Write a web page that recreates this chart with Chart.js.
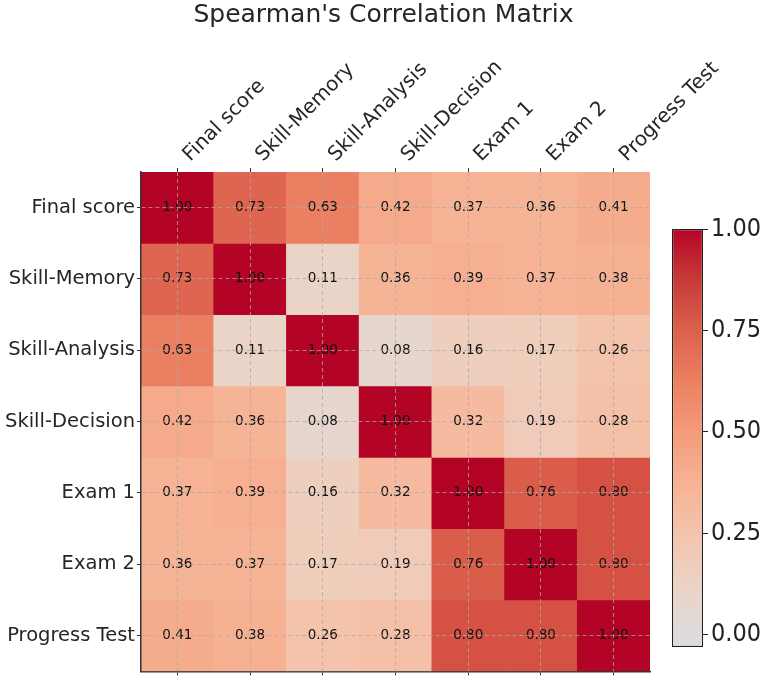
<!DOCTYPE html>
<html>
<head>
<meta charset="utf-8">
<script src="https://cdn.jsdelivr.net/npm/chart.js@4.4.1/dist/chart.umd.min.js"></script>
<style>
html, body { margin: 0; padding: 0; background: #fff; }
#wrap { position: relative; width: 767px; height: 685px; }
#wrap canvas { position: absolute; left: 0; top: 0; }
</style>
</head>
<body>
<div id="wrap">
  <canvas id="heat" width="767" height="685"></canvas>
  <canvas id="cbar" width="767" height="685"></canvas>
</div>
<script>
const labels = ['Final score', 'Skill-Memory', 'Skill-Analysis', 'Skill-Decision', 'Exam 1', 'Exam 2', 'Progress Test'];

// correlation rows, same order as labels
const rowFinal    = [1.00, 0.73, 0.63, 0.42, 0.37, 0.36, 0.41];
const rowMemory   = [0.73, 1.00, 0.11, 0.36, 0.39, 0.37, 0.38];
const rowAnalysis = [0.63, 0.11, 1.00, 0.08, 0.16, 0.17, 0.26];
const rowDecision = [0.42, 0.36, 0.08, 1.00, 0.32, 0.19, 0.28];
const rowExam1    = [0.37, 0.39, 0.16, 0.32, 1.00, 0.76, 0.80];
const rowExam2    = [0.36, 0.37, 0.17, 0.19, 0.76, 1.00, 0.80];
const rowProgress = [0.41, 0.38, 0.26, 0.28, 0.80, 0.80, 1.00];
const matrix = [rowFinal, rowMemory, rowAnalysis, rowDecision, rowExam1, rowExam2, rowProgress];

const cbarTicks = [0, 0.25, 0.5, 0.75, 1];
const cbarMin = -0.03;
const cbarMax = 1.0;

// warm half of coolwarm, 0 -> 1
const cmapStops = [
  [221, 220, 220], [236, 211, 197], [244, 196, 173], [246, 178, 148], [244, 155, 122],
  [235, 128, 98], [220, 96, 76], [200, 58, 55], [180, 4, 38]
];

const cmap = v => {
  v = Math.max(0, Math.min(1, v));
  const p = v * (cmapStops.length - 1);
  const i = Math.min(Math.floor(p), cmapStops.length - 2);
  const t = p - i;
  const a = cmapStops[i], b = cmapStops[i + 1];
  const c = a.map((x, k) => Math.round(x + (b[k] - x) * t));
  return 'rgb(' + c.join(',') + ')';
};

const gridColor = 'rgba(170,170,170,0.75)';

const cellText = {
  id: 'cellText',
  afterDatasetsDraw(chart) {
    const ctx = chart.ctx;
    ctx.save();
    ctx.font = '13.5px "DejaVu Sans"';
    ctx.fillStyle = '#111';
    ctx.textAlign = 'center';
    ctx.textBaseline = 'middle';
    chart.data.datasets.forEach((ds, r) => {
      chart.getDatasetMeta(r).data.forEach((el, c) => {
        ctx.fillText(matrix[r][c].toFixed(2), el.x, (el.y + el.base) / 2);
      });
    });
    ctx.restore();
  }
};

// matplotlib style 45 degree column labels, anchored at their start
const topLabels = {
  id: 'topLabels',
  afterDraw(chart) {
    const ctx = chart.ctx;
    const xs = chart.scales.x;
    ctx.save();
    ctx.font = '20px "DejaVu Sans"';
    ctx.fillStyle = '#262626';
    ctx.textAlign = 'left';
    ctx.textBaseline = 'alphabetic';
    labels.forEach((lab, i) => {
      ctx.save();
      ctx.translate(xs.getPixelForTick(i) + 13, chart.chartArea.top - 10);
      ctx.rotate(-Math.PI / 4);
      ctx.fillText(lab, 0, 0);
      ctx.restore();
    });
    ctx.restore();
  }
};

new Chart(document.getElementById('heat'), {
  type: 'bar',
  data: {
    labels: labels,
    datasets: matrix.map((row, r) => ({
      label: labels[r],
      data: row.map(() => [r, r + 1]),
      backgroundColor: row.map(cmap),
      borderWidth: 0,
      grouped: false,
      barPercentage: 1,
      categoryPercentage: 1
    }))
  },
  options: {
    responsive: false,
    animation: false,
    devicePixelRatio: 1,
    layout: { padding: 0 },
    plugins: {
      legend: { display: false },
      tooltip: { enabled: false },
      title: {
        display: true,
        text: "Spearman's Correlation Matrix",
        color: '#262626',
        font: { family: 'DejaVu Sans', size: 25, weight: 'normal' },
        padding: { top: 0, bottom: 0 }
      }
    },
    scales: {
      x: {
        position: 'top',
        offset: true,
        z: 1,
        grid: { offset: false, color: gridColor, lineWidth: 1, drawTicks: true, tickLength: 4, tickColor: '#333', tickBorderDash: [], z: 1 },
        border: { display: false, dash: [4, 3], z: 1 },
        ticks: { display: false },
        afterFit(s) { s.height = 142; }
      },
      xb: {
        type: 'category',
        position: 'bottom',
        offset: true,
        grid: { offset: false, drawOnChartArea: false, drawTicks: true, tickLength: 4, tickColor: '#333' },
        border: { display: true, color: '#333', width: 1.5 },
        ticks: { display: false },
        afterFit(s) { s.height = 7; }
      },
      y: {
        type: 'linear',
        min: 0,
        max: 7,
        reverse: true,
        z: 1,
        afterBuildTicks(s) { s.ticks = labels.map((_, i) => ({ value: i + 0.5 })); },
        grid: { color: gridColor, lineWidth: 1, drawTicks: true, tickLength: 4, tickColor: '#333', tickBorderDash: [], z: 1 },
        border: { display: true, color: '#333', width: 1.5, dash: [4, 3], z: 1 },
        ticks: { font: { family: 'DejaVu Sans', size: 19.5 }, color: '#262626', padding: 2, callback: (v, i) => labels[i], z: 1 },
        afterFit(s) { s.width = 141; }
      },
      yr: {
        type: 'linear',
        position: 'right',
        grid: { display: false },
        border: { display: false },
        ticks: { display: false },
        afterFit(s) { s.width = 117; }
      }
    }
  },
  plugins: [cellText, topLabels]
});

const cbarFill = context => {
  const chart = context.chart;
  const area = chart.chartArea;
  if (!area) return cmap(1);
  const yScale = chart.scales.y;
  const top = yScale.getPixelForValue(cbarMax);
  const bottom = yScale.getPixelForValue(cbarMin);
  const g = chart.ctx.createLinearGradient(0, bottom, 0, top);
  g.addColorStop(0, cmap(0));
  cmapStops.forEach((_, k) => {
    const v = k / (cmapStops.length - 1);
    g.addColorStop((v - cbarMin) / (cbarMax - cbarMin), cmap(v));
  });
  return g;
};

new Chart(document.getElementById('cbar'), {
  type: 'bar',
  data: {
    labels: [''],
    datasets: [{
      data: [[cbarMin, cbarMax]],
      backgroundColor: cbarFill,
      borderColor: '#222',
      borderWidth: 1.2,
      borderSkipped: false,
      inflateAmount: 0,
      barPercentage: 1,
      categoryPercentage: 1
    }]
  },
  options: {
    responsive: false,
    animation: false,
    devicePixelRatio: 1,
    layout: { padding: { left: 672, top: 229, bottom: 38, right: 0 } },
    plugins: { legend: { display: false }, tooltip: { enabled: false } },
    scales: {
      x: { display: false },
      y: {
        position: 'right',
        min: cbarMin,
        max: cbarMax,
        afterBuildTicks(s) { s.ticks = cbarTicks.map(v => ({ value: v })); },
        grid: { drawOnChartArea: false, drawTicks: true, tickLength: 5, tickColor: '#222' },
        border: { display: false },
        ticks: { font: { family: '"DejaVu Sans Condensed", "DejaVu Sans"', size: 25 }, color: '#222', padding: 3, callback: v => v.toFixed(2) },
        afterFit(s) { s.width = 64; }
      }
    }
  }
});
</script>
</body>
</html>
